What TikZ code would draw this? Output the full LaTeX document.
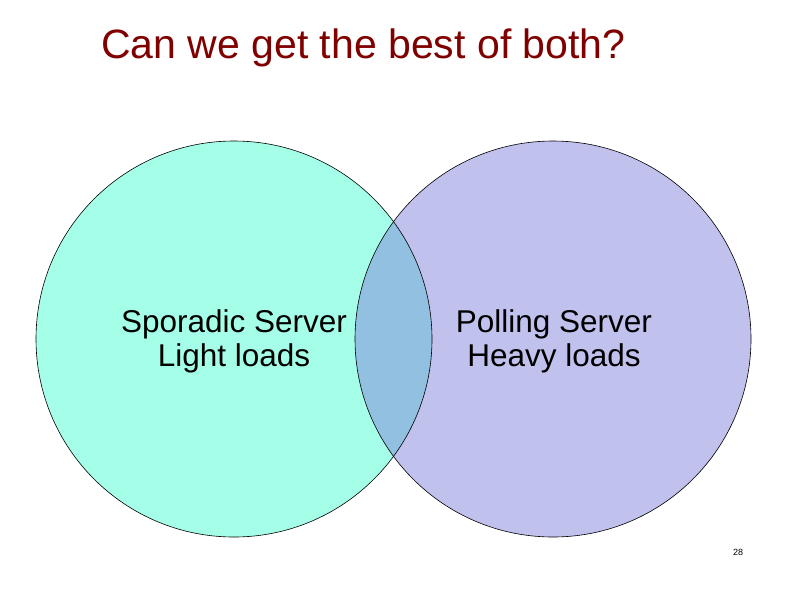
\documentclass[tikz,border=0pt]{standalone}
\usepackage{fontspec}
\setmainfont{Liberation Sans}
\definecolor{leftc}{HTML}{A5FFE8}
\definecolor{rightc}{HTML}{C1C1EE}
\definecolor{midc}{HTML}{92C0E0}
\definecolor{titlec}{HTML}{800000}
\begin{document}
\begin{tikzpicture}[x=1pt,y=-1pt,
  lbl/.style={align=center,font=\fontsize{31.5}{34}\selectfont,inner sep=0pt}]
\useasboundingbox (0,0) rectangle (794,595);
\fill[leftc] (234,339) circle (198);
\fill[rightc] (553,339) circle (198);
\begin{scope}
\clip (234,339) circle (198);
\fill[midc] (553,339) circle (198);
\end{scope}
\draw[line width=0.6pt] (234,339) circle (198);
\draw[line width=0.6pt] (553,339) circle (198);
\node[anchor=west,text=titlec,font=\fontsize{41}{44}\selectfont,inner sep=0pt] (title) at (101,48) {Can we get the best of both?};
\node[lbl] (sp) at (234,341) {Sporadic Server\\Light loads};
\node[lbl] (po) at (554,341) {Polling Server\\Heavy loads};
\node[font=\fontsize{9}{10}\selectfont] (pg) at (738,552) {28};
\end{tikzpicture}
\end{document}
